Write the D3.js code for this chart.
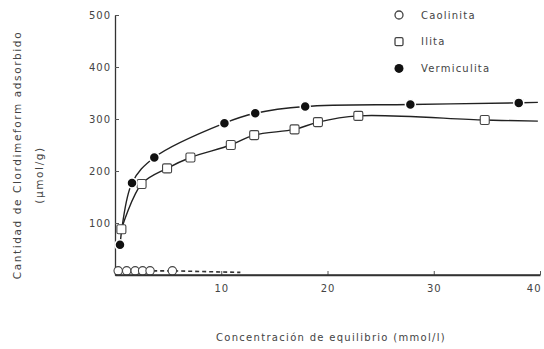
<!DOCTYPE html>
<html>
<head>
<meta charset="utf-8">
<script src="https://cdn.jsdelivr.net/npm/d3@7"></script>
<style>
  body { margin: 0; background: #fff; }
  text { font-family: "DejaVu Sans", sans-serif; fill: #444; }
</style>
</head>
<body>
<svg id="chart"></svg>
<script>
// Data
const vermiculitaX = [0.47, 1.6, 3.7, 10.3, 13.2, 17.9, 27.8, 38.0];
const vermiculitaY = [58, 177, 226, 292, 311, 324, 328, 331];
const ilitaX = [0.6, 2.5, 4.9, 7.1, 10.9, 13.1, 16.9, 19.1, 22.9, 34.8];
const ilitaY = [88, 175, 205, 226, 250, 269, 280, 294, 306, 298];
const caolinitaX = [0.3, 1.1, 1.9, 2.6, 3.3, 5.4];
const caolinitaY = [8, 8, 8, 8, 8, 8];
const xTicks = [10, 20, 30, 40];
const yTicks = [100, 200, 300, 400, 500];
const legendLabels = ["Caolinita", "Ilita", "Vermiculita"];

const width = 544, height = 349;
const svg = d3.select("#chart").attr("width", width).attr("height", height);

const x = d3.scaleLinear().domain([0, 40]).range([115, 540]);
const y = d3.scaleLinear().domain([0, 500]).range([275, 15]);

const toPts = (xs, ys) => xs.map((v, i) => ({ x: v, y: ys[i] }));
const verm = toPts(vermiculitaX, vermiculitaY);
const ilita = toPts(ilitaX, ilitaY);
const caol = toPts(caolinitaX, caolinitaY);

// axes (ticks point inward)
const xAxis = svg.append("g")
    .attr("transform", `translate(0,${y(0)})`)
    .call(d3.axisBottom(x).tickValues(xTicks).tickSizeInner(-4).tickSizeOuter(0).tickPadding(8));
const yAxis = svg.append("g")
    .attr("transform", `translate(${x(0)},0)`)
    .call(d3.axisLeft(y).tickValues(yTicks).tickSizeInner(-4).tickSizeOuter(0).tickPadding(4));

[xAxis, yAxis].forEach(g => {
    g.select(".domain").attr("stroke", "#333").attr("stroke-width", 1.3);
    g.selectAll(".tick line").attr("stroke", "#555");
    g.selectAll(".tick text")
        .style("font-size", "10px")
        .style("letter-spacing", "1px")
        .attr("fill", "#444");
});
xAxis.selectAll(".tick text").attr("dy", "0.9em");
// last label sits on the right edge, nudge it in
xAxis.selectAll(".tick text").filter(d => d === 40).attr("text-anchor", "end").attr("dx", "1px");

// lines
const line = d3.line()
    .x(d => x(d.x))
    .y(d => y(d.y))
    .curve(d3.curveCatmullRom.alpha(0.5));

svg.append("path")
    .datum(verm.concat([{ x: 39.8, y: 332 }]))
    .attr("d", line)
    .attr("fill", "none")
    .attr("stroke", "#222")
    .attr("stroke-width", 1.4);

svg.append("path")
    .datum(ilita.concat([{ x: 39.8, y: 296 }]))
    .attr("d", line)
    .attr("fill", "none")
    .attr("stroke", "#222")
    .attr("stroke-width", 1.4);

svg.append("path")
    .datum(caol.concat([{ x: 11.8, y: 5 }]))
    .attr("d", d3.line().x(d => x(d.x)).y(d => y(d.y)))
    .attr("fill", "none")
    .attr("stroke", "#333")
    .attr("stroke-width", 1.6)
    .attr("stroke-dasharray", "4,3");

// markers
svg.selectAll(".ilita")
    .data(ilita)
    .enter().append("rect")
    .attr("class", "ilita")
    .attr("x", d => x(d.x) - 4.5)
    .attr("y", d => y(d.y) - 4.5)
    .attr("width", 9)
    .attr("height", 9)
    .attr("rx", 1.5)
    .attr("fill", "#fff")
    .attr("stroke", "#444")
    .attr("stroke-width", 1.1);

svg.selectAll(".verm")
    .data(verm)
    .enter().append("circle")
    .attr("class", "verm")
    .attr("cx", d => x(d.x))
    .attr("cy", d => y(d.y))
    .attr("r", 5)
    .attr("fill", "#111")
    .attr("stroke", "#fff")
    .attr("stroke-width", 1.5);

svg.selectAll(".caol")
    .data(caol)
    .enter().append("circle")
    .attr("class", "caol")
    .attr("cx", d => x(d.x))
    .attr("cy", d => y(d.y))
    .attr("r", 4.2)
    .attr("fill", "#fff")
    .attr("stroke", "#444")
    .attr("stroke-width", 1.1);

// redraw x axis line over the circles
svg.append("line")
    .attr("x1", x(0)).attr("x2", x(40))
    .attr("y1", y(0)).attr("y2", y(0))
    .attr("stroke", "#333").attr("stroke-width", 1.3);

// legend
const legend = svg.append("g");
legendLabels.forEach((lab, i) => {
    const ly = 15 + i * 26.7;
    if (i === 0) {
        legend.append("circle").attr("cx", 399).attr("cy", ly).attr("r", 4)
            .attr("fill", "#fff").attr("stroke", "#444").attr("stroke-width", 1.3);
    } else if (i === 1) {
        legend.append("rect").attr("x", 395).attr("y", ly - 4).attr("width", 8).attr("height", 8)
            .attr("rx", 1.5).attr("fill", "#fff").attr("stroke", "#444").attr("stroke-width", 1.3);
    } else {
        legend.append("circle").attr("cx", 399).attr("cy", ly).attr("r", 4.5).attr("fill", "#111");
    }
    legend.append("text")
        .attr("x", 421)
        .attr("y", ly)
        .attr("dy", "0.35em")
        .style("font-size", "10px")
        .style("letter-spacing", "1.2px")
        .text(lab);
});

// axis titles
svg.append("text")
    .attr("transform", "translate(21,155) rotate(-90)")
    .attr("text-anchor", "middle")
    .style("font-size", "10.5px")
    .style("letter-spacing", "1.6px")
    .text("Cantidad de Clordimeform adsorbido");

svg.append("text")
    .attr("transform", "translate(43,175) rotate(-90)")
    .attr("text-anchor", "middle")
    .style("font-size", "10.5px")
    .style("letter-spacing", "1.6px")
    .text("(µmol/g)");

svg.append("text")
    .attr("x", 331)
    .attr("y", 341)
    .attr("text-anchor", "middle")
    .style("font-size", "10px")
    .style("letter-spacing", "1.3px")
    .text("Concentración de equilibrio (mmol/l)");
</script>
</body>
</html>
